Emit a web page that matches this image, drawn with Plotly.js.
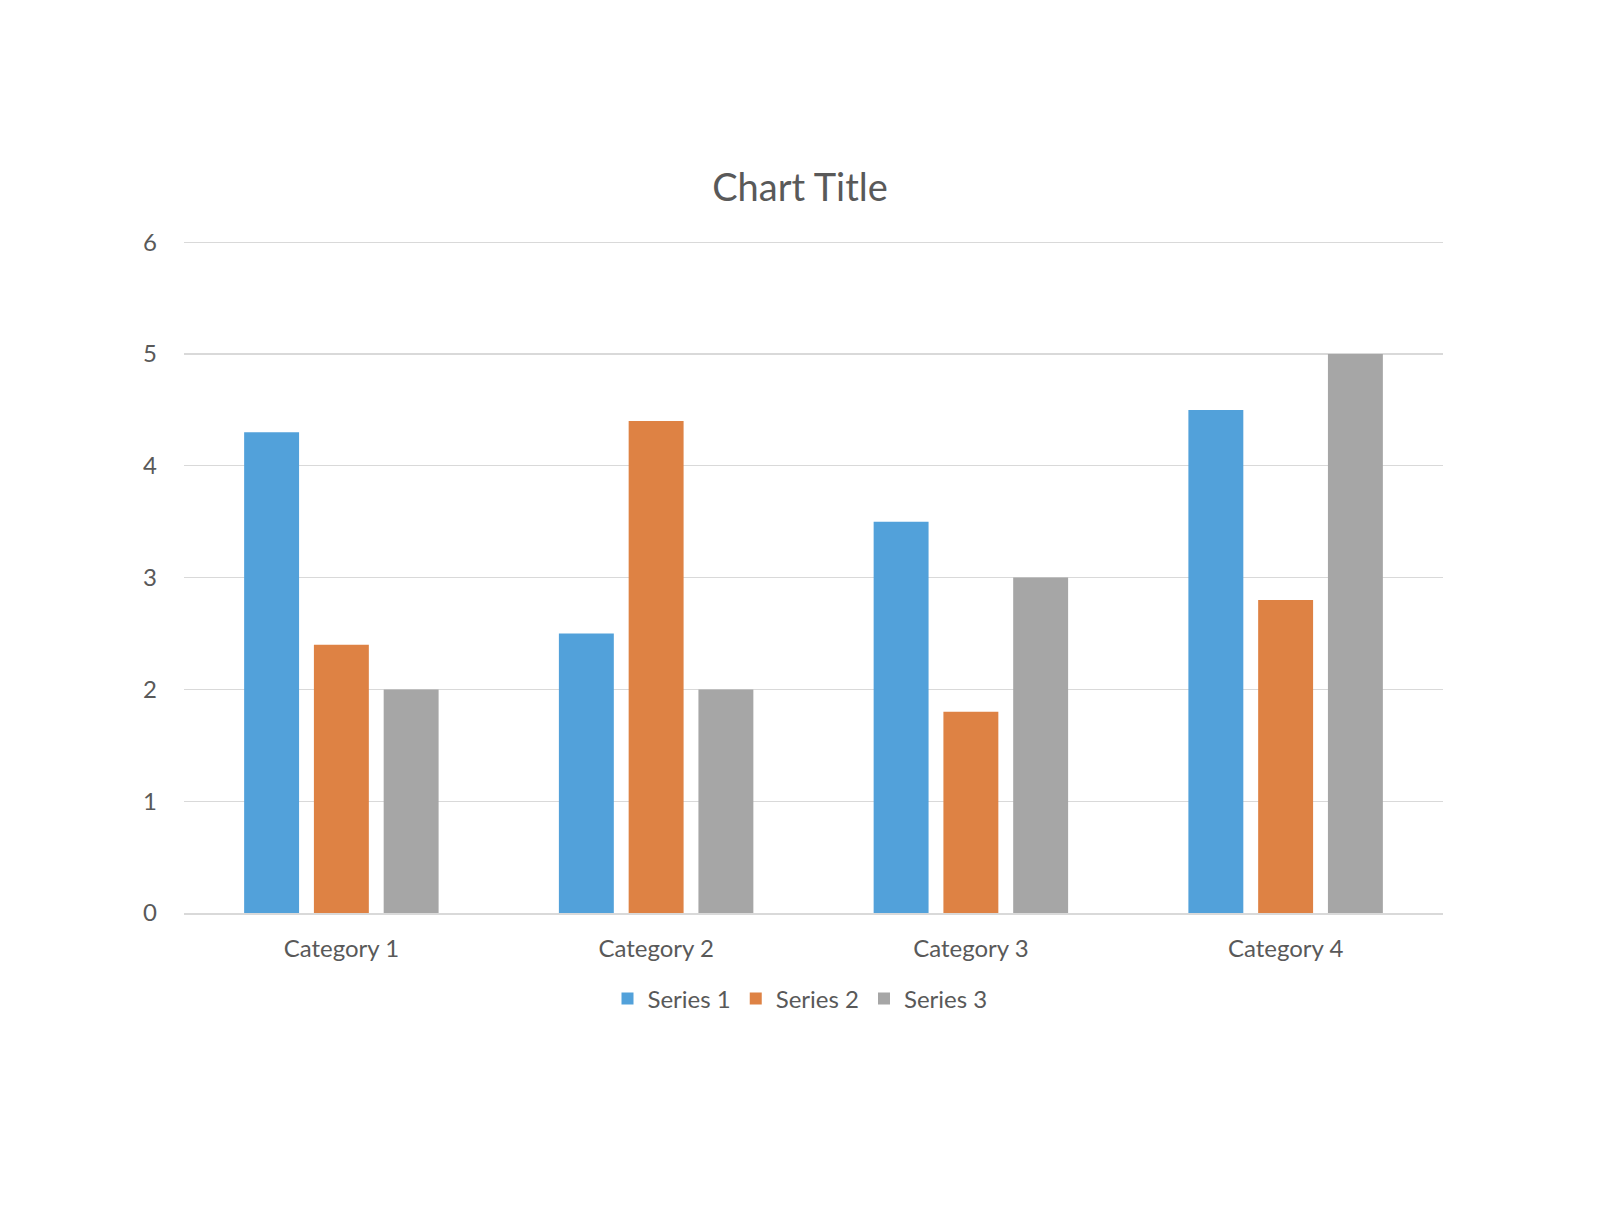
<!DOCTYPE html>
<html>
<head>
<meta charset="utf-8">
<script src="https://cdn.plot.ly/plotly-3.0.1.min.js"></script>
<style>
  html, body { margin: 0; padding: 0; background: #ffffff; }
  #chart { width: 1600px; height: 1205px; }
</style>
</head>
<body>
<div id="chart"></div>
<script>
// Category labels and series values
const categories = ["Category 1", "Category 2", "Category 3", "Category 4"];
const series1 = [4.3, 2.5, 3.5, 4.5];
const series2 = [2.4, 4.4, 1.8, 2.8];
const series3 = [2, 2, 3, 5];
const seriesNames = ["Series 1", "Series 2", "Series 3"];
const yTicks = [0, 1, 2, 3, 4, 5, 6];

const colors = ["#52A1DA", "#DE8244", "#A6A6A6"];
const textColor = "#595959";
const fontFamily = "Lato, 'Open Sans', sans-serif";

const traces = [series1, series2, series3].map((vals, i) => ({
  type: "bar",
  name: seriesNames[i],
  x: categories,
  y: vals,
  marker: { color: colors[i], line: { width: 0 } },
  hoverinfo: "x+y+name"
}));

const layout = {
  width: 1600,
  height: 1205,
  paper_bgcolor: "#ffffff",
  plot_bgcolor: "#ffffff",
  margin: { l: 184, r: 157, t: 240, b: 292 },
  font: { family: fontFamily, color: textColor },
  title: {
    text: "Chart Title",
    font: { family: fontFamily, size: 38, color: textColor },
    x: 0.5, xref: "container", xanchor: "center",
    y: 1 - 188 / 1205, yref: "container", yanchor: "middle"
  },
  barmode: "group",
  bargap: 0.335,
  bargroupgap: 0.2126,
  xaxis: {
    showgrid: false,
    showline: true,
    linecolor: "#D9D9D9",
    linewidth: 1.5,
    ticks: "",
    ticklabelstandoff: 14,
    tickfont: { family: fontFamily, size: 24, color: textColor },
    zeroline: false
  },
  yaxis: {
    // a little headroom so the top gridline at 6 is not clipped away
    range: [0, 6.02],
    tickvals: yTicks,
    ticktext: yTicks.map(String),
    showgrid: true,
    gridcolor: "#D9D9D9",
    gridwidth: 1.2,
    zeroline: false,
    showline: false,
    ticks: "",
    ticklabelstandoff: 26,
    tickfont: { family: fontFamily, size: 24, color: textColor }
  },
  showlegend: true,
  legend: {
    orientation: "h",
    x: 0.5, xref: "container", xanchor: "center",
    y: 1 - 999 / 1205, yref: "container", yanchor: "middle",
    font: { family: fontFamily, size: 24, color: textColor },
    itemwidth: 30,
    traceorder: "normal",
    bgcolor: "rgba(0,0,0,0)"
  }
};

Plotly.newPlot("chart", traces, layout, { displayModeBar: false, staticPlot: true });
</script>
</body>
</html>
